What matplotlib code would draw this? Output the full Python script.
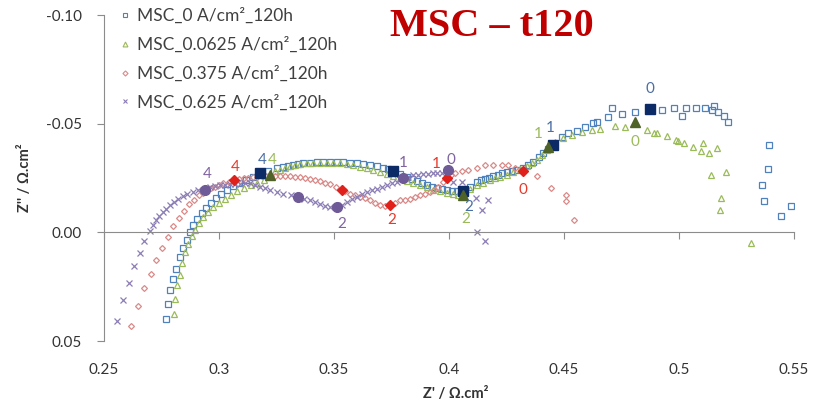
import matplotlib
matplotlib.use("Agg")
import matplotlib.pyplot as plt
from matplotlib.lines import Line2D

# MSC_0 A/cm2_120h  (Z', Z'')
msc0_x = [0.2768, 0.2777, 0.2786, 0.2799, 0.2813, 0.2831, 0.2845, 0.2860, 0.2874, 0.2889,
          0.2906, 0.2925, 0.2944, 0.2965, 0.2987, 0.3009, 0.3033, 0.3060, 0.3087, 0.3116,
          0.3147, 0.3178, 0.3215, 0.3251, 0.3280, 0.3302, 0.3323, 0.3345, 0.3367, 0.3396,
          0.3425, 0.3454, 0.3483, 0.3511, 0.3540, 0.3570, 0.3599, 0.3628, 0.3657, 0.3686,
          0.3714, 0.3736, 0.3758, 0.3787, 0.3816, 0.3838, 0.3860, 0.3882, 0.3903, 0.3925,
          0.3947, 0.3968, 0.3990, 0.4012, 0.4034, 0.4061, 0.4091, 0.4120, 0.4140, 0.4157,
          0.4175, 0.4193, 0.4212, 0.4230, 0.4251, 0.4272, 0.4294, 0.4323, 0.4345, 0.4367,
          0.4390, 0.4410, 0.4432, 0.4454, 0.4490, 0.4519, 0.4555, 0.4591, 0.4627, 0.4642,
          0.4693, 0.4707, 0.4751, 0.4809, 0.4874, 0.4925, 0.4980, 0.5012, 0.5030, 0.5073,
          0.5113, 0.5142, 0.5152, 0.5171, 0.5196, 0.5214, 0.5393, 0.5388, 0.5360, 0.5370,
          0.5445, 0.5487]
msc0_y = [0.0398, 0.0332, 0.0267, 0.0213, 0.0167, 0.0114, 0.0071, 0.0034, -0.0001, -0.0032,
          -0.0063, -0.0089, -0.0114, -0.0137, -0.0158, -0.0178, -0.0197, -0.0214, -0.0229, -0.0243,
          -0.0255, -0.0271, -0.0283, -0.0294, -0.0301, -0.0306, -0.0311, -0.0315, -0.0318, -0.0321,
          -0.0323, -0.0324, -0.0324, -0.0324, -0.0323, -0.0321, -0.0318, -0.0314, -0.0309, -0.0304,
          -0.0298, -0.0291, -0.0283, -0.0270, -0.0255, -0.0245, -0.0235, -0.0226, -0.0218, -0.0210,
          -0.0204, -0.0199, -0.0195, -0.0191, -0.0190, -0.0190, -0.0210, -0.0232, -0.0240, -0.0246,
          -0.0252, -0.0258, -0.0265, -0.0271, -0.0278, -0.0284, -0.0289, -0.0297, -0.0310, -0.0324,
          -0.0345, -0.0363, -0.0382, -0.0401, -0.0437, -0.0455, -0.0467, -0.0485, -0.0501, -0.0508,
          -0.0529, -0.0570, -0.0543, -0.0552, -0.0567, -0.0562, -0.0570, -0.0535, -0.0570, -0.0570,
          -0.0570, -0.0562, -0.0581, -0.0552, -0.0535, -0.0509, -0.0404, -0.0290, -0.0217, -0.0143,
          -0.0074, -0.0123]

# MSC_0.0625 A/cm2_120h
msc0625_x = [0.2804, 0.2809, 0.2819, 0.2830, 0.2841, 0.2852, 0.2867, 0.2881, 0.2896, 0.2913,
             0.2932, 0.2953, 0.2975, 0.3000, 0.3026, 0.3052, 0.3080, 0.3109, 0.3138, 0.3167,
             0.3196, 0.3222, 0.3244, 0.3265, 0.3287, 0.3309, 0.3330, 0.3352, 0.3381, 0.3410,
             0.3439, 0.3468, 0.3497, 0.3526, 0.3555, 0.3584, 0.3613, 0.3642, 0.3671, 0.3700,
             0.3729, 0.3758, 0.3787, 0.3816, 0.3845, 0.3874, 0.3903, 0.3932, 0.3961, 0.3990,
             0.4019, 0.4040, 0.4061, 0.4091, 0.4120, 0.4149, 0.4178, 0.4200, 0.4222, 0.4251,
             0.4280, 0.4309, 0.4338, 0.4360, 0.4381, 0.4403, 0.4425, 0.4432, 0.4461, 0.4497,
             0.4533, 0.4577, 0.4620, 0.4657, 0.4722, 0.4765, 0.4809, 0.4859, 0.4891, 0.4906,
             0.4949, 0.4987, 0.4997, 0.5023, 0.5060, 0.5103, 0.5096, 0.5130, 0.5167, 0.5139,
             0.5203, 0.5184, 0.5177, 0.5314]
msc0625_y = [0.0375, 0.0306, 0.0244, 0.0194, 0.0141, 0.0091, 0.0052, 0.0018, -0.0012, -0.0043,
             -0.0071, -0.0094, -0.0117, -0.0137, -0.0155, -0.0174, -0.0189, -0.0204, -0.0217, -0.0229,
             -0.0240, -0.0263, -0.0280, -0.0289, -0.0297, -0.0304, -0.0309, -0.0314, -0.0317, -0.0320,
             -0.0321, -0.0321, -0.0319, -0.0317, -0.0313, -0.0308, -0.0301, -0.0294, -0.0286, -0.0278,
             -0.0268, -0.0258, -0.0248, -0.0237, -0.0227, -0.0217, -0.0207, -0.0197, -0.0189, -0.0181,
             -0.0177, -0.0174, -0.0171, -0.0200, -0.0217, -0.0229, -0.0240, -0.0248, -0.0255, -0.0266,
             -0.0278, -0.0291, -0.0304, -0.0318, -0.0332, -0.0355, -0.0378, -0.0393, -0.0416, -0.0432,
             -0.0447, -0.0462, -0.0470, -0.0475, -0.0489, -0.0486, -0.0508, -0.0470, -0.0458, -0.0458,
             -0.0442, -0.0424, -0.0420, -0.0409, -0.0393, -0.0409, -0.0375, -0.0363, -0.0389, -0.0266,
             -0.0278, -0.0160, -0.0105, 0.0049]

# MSC_0.375 A/cm2_120h
msc0375_x = [0.2616, 0.2646, 0.2675, 0.2703, 0.2726, 0.2751, 0.2777, 0.2801, 0.2828, 0.2848,
             0.2871, 0.2891, 0.2914, 0.2930, 0.2947, 0.2965, 0.2983, 0.3001, 0.3019, 0.3043,
             0.3067, 0.3088, 0.3109, 0.3128, 0.3148, 0.3167, 0.3187, 0.3206, 0.3226, 0.3245,
             0.3265, 0.3287, 0.3309, 0.3330, 0.3352, 0.3374, 0.3396, 0.3417, 0.3439, 0.3461,
             0.3483, 0.3509, 0.3533, 0.3550, 0.3570, 0.3591, 0.3613, 0.3635, 0.3657, 0.3678,
             0.3700, 0.3722, 0.3743, 0.3765, 0.3787, 0.3808, 0.3830, 0.3852, 0.3874, 0.3895,
             0.3917, 0.3936, 0.3954, 0.3972, 0.3990, 0.4008, 0.4026, 0.4055, 0.4084, 0.4120,
             0.4157, 0.4193, 0.4229, 0.4258, 0.4287, 0.4323, 0.4384, 0.4442, 0.4507, 0.4507,
             0.4545]
msc0375_y = [0.0429, 0.0337, 0.0255, 0.0190, 0.0129, 0.0071, 0.0022, -0.0028, -0.0066, -0.0097,
             -0.0129, -0.0151, -0.0171, -0.0183, -0.0194, -0.0202, -0.0209, -0.0217, -0.0225, -0.0233,
             -0.0240, -0.0245, -0.0249, -0.0252, -0.0254, -0.0256, -0.0258, -0.0259, -0.0260, -0.0260,
             -0.0260, -0.0259, -0.0258, -0.0256, -0.0254, -0.0251, -0.0247, -0.0241, -0.0235, -0.0228,
             -0.0221, -0.0207, -0.0197, -0.0188, -0.0178, -0.0170, -0.0163, -0.0156, -0.0148, -0.0136,
             -0.0124, -0.0122, -0.0124, -0.0136, -0.0148, -0.0151, -0.0155, -0.0163, -0.0171, -0.0178,
             -0.0186, -0.0197, -0.0209, -0.0230, -0.0250, -0.0262, -0.0271, -0.0283, -0.0289, -0.0298,
             -0.0309, -0.0312, -0.0312, -0.0309, -0.0298, -0.0281, -0.0258, -0.0204, -0.0174, -0.0144,
             -0.0055]

# MSC_0.625 A/cm2_120h
msc0625b_x = [0.2558, 0.2584, 0.2610, 0.2632, 0.2657, 0.2675, 0.2700, 0.2714, 0.2726, 0.2740,
              0.2755, 0.2770, 0.2787, 0.2804, 0.2823, 0.2842, 0.2862, 0.2886, 0.2910, 0.2939,
              0.2961, 0.2983, 0.3004, 0.3026, 0.3048, 0.3070, 0.3091, 0.3113, 0.3135, 0.3157,
              0.3178, 0.3200, 0.3222, 0.3251, 0.3280, 0.3312, 0.3345, 0.3370, 0.3396, 0.3417,
              0.3439, 0.3461, 0.3483, 0.3512, 0.3533, 0.3555, 0.3577, 0.3599, 0.3620, 0.3642,
              0.3664, 0.3686, 0.3707, 0.3729, 0.3751, 0.3773, 0.3801, 0.3823, 0.3845, 0.3866,
              0.3888, 0.3910, 0.3932, 0.3950, 0.3968, 0.3997, 0.4019, 0.4055, 0.4117, 0.4171,
              0.4142, 0.4120, 0.4157]
msc0625b_y = [0.0409, 0.0313, 0.0234, 0.0157, 0.0095, 0.0040, -0.0005, -0.0032, -0.0055, -0.0074,
              -0.0094, -0.0109, -0.0128, -0.0140, -0.0155, -0.0167, -0.0178, -0.0186, -0.0194, -0.0197,
              -0.0209, -0.0213, -0.0217, -0.0219, -0.0221, -0.0223, -0.0224, -0.0225, -0.0225, -0.0218,
              -0.0209, -0.0202, -0.0194, -0.0186, -0.0178, -0.0170, -0.0163, -0.0155, -0.0148, -0.0138,
              -0.0129, -0.0123, -0.0117, -0.0117, -0.0128, -0.0140, -0.0152, -0.0163, -0.0175, -0.0186,
              -0.0194, -0.0201, -0.0209, -0.0217, -0.0225, -0.0232, -0.0248, -0.0256, -0.0263, -0.0265,
              -0.0267, -0.0269, -0.0271, -0.0271, -0.0271, -0.0286, -0.0232, -0.0232, -0.0160, -0.0148,
              -0.0105, 0.0000, 0.0040]

# frequency decade points (log f) highlighted with filled markers
msc0_dec_x = [0.3178, 0.3758, 0.4061, 0.4454, 0.4874]
msc0_dec_y = [-0.0271, -0.0283, -0.0190, -0.0401, -0.0567]
msc0_dec_lab = ['4', '', '2', '1', '0']
msc0625_dec_x = [0.3222, 0.4061, 0.4432, 0.4809]
msc0625_dec_y = [-0.0263, -0.0171, -0.0393, -0.0508]
msc0625_dec_lab = ['4', '2', '1', '0']
msc0375_dec_x = [0.3067, 0.3533, 0.3743, 0.3990, 0.4323]
msc0375_dec_y = [-0.0240, -0.0197, -0.0124, -0.0250, -0.0281]
msc0375_dec_lab = ['4', '', '2', '1', '0']
msc0625b_dec_x = [0.2939, 0.3345, 0.3512, 0.3801, 0.3997]
msc0625b_dec_y = [-0.0197, -0.0163, -0.0117, -0.0248, -0.0286]
msc0625b_dec_lab = ['4', '', '2', '1', '0']

legend_labels = ['MSC_0 A/cm²_120h', 'MSC_0.0625 A/cm²_120h',
                 'MSC_0.375 A/cm²_120h', 'MSC_0.625 A/cm²_120h']
xticks = [0.25, 0.3, 0.35, 0.4, 0.45, 0.5, 0.55]
xtick_labels = ['0.25', '0.3', '0.35', '0.4', '0.45', '0.5', '0.55']
yticks = [-0.10, -0.05, 0.00, 0.05]
ytick_labels = ['-0.10', '-0.05', '0.00', '0.05']

# label offsets in pixels (dx, dy)
msc0_off = [(2, 13), None, (6, -16), (-3, 17), (0, 20)]
msc0625_off = [(2, 15), (3, -24), (-10, 13), (0, -20)]
msc0375_off = [(1, 13), None, (2, -15), (-10, 14), (0, -19)]
msc0625b_off = [(2, 16), None, (5, -17), (0, 15), (3, 10)]

plt.rcParams['font.family'] = ['Lato', 'DejaVu Sans']

fig = plt.figure(figsize=(8.22, 4.11), dpi=100)
ax = fig.add_axes([0.1265, 0.1703, 0.8394, 0.7932])

series = [
    (msc0_x, msc0_y, 's', 4.7, '#4F81BD', 'none'),
    (msc0625_x, msc0625_y, '^', 5.0, '#9BBB59', 'none'),
    (msc0375_x, msc0375_y, 'D', 3.0, '#D88A88', 'none'),
    (msc0625b_x, msc0625b_y, 'x', 4.3, '#8C7DB5', None),
]
for sx, sy, m, ms, c, fc in series:
    if fc is None:
        ax.plot(sx, sy, ls='none', marker=m, ms=ms, mec=c, mew=0.9)
    else:
        ax.plot(sx, sy, ls='none', marker=m, ms=ms, mec=c, mfc=fc, mew=0.9)

decades = [
    (msc0_dec_x, msc0_dec_y, msc0_dec_lab, msc0_off, 's', 6.5, '#0B2A66', '#4A6FA5'),
    (msc0625_dec_x, msc0625_dec_y, msc0625_dec_lab, msc0625_off, '^', 7.0, '#4F6228', '#9BBB59'),
    (msc0375_dec_x, msc0375_dec_y, msc0375_dec_lab, msc0375_off, 'D', 5.0, '#E0201B', '#E8392A'),
    (msc0625b_dec_x, msc0625b_dec_y, msc0625b_dec_lab, msc0625b_off, 'o', 7.0, '#6E5A96', '#8064A2'),
]
for dx, dy, labs, offs, m, ms, c, lc in decades:
    ax.plot(dx, dy, ls='none', marker=m, ms=ms, mec=c, mfc=c, zorder=4)
    for x, y, t, o in zip(dx, dy, labs, offs):
        if t:
            ax.annotate(t, (x, y), xytext=o, textcoords='offset pixels',
                        ha='center', va='center', fontsize=11, color=lc, zorder=5)

ax.set_xlim(0.25, 0.55)
ax.set_ylim(0.05, -0.10)

axis_color = '#8C8C8C'
for s in ['top', 'right']:
    ax.spines[s].set_visible(False)
ax.spines['left'].set_color(axis_color)
ax.spines['bottom'].set_color(axis_color)
ax.spines['bottom'].set_position(('data', 0.0))

ax.set_xticks(xticks)
ax.tick_params(axis='x', direction='out', length=5, color=axis_color, labelbottom=False)
ax.set_yticks(yticks, labels=ytick_labels)
ax.tick_params(axis='y', direction='out', length=5, color=axis_color, pad=11,
               labelsize=11, labelcolor='#333333')

# x tick labels sit below the plot area, not on the zero line
sec = ax.secondary_xaxis(0)
sec.set_xticks(xticks, labels=xtick_labels)
sec.tick_params(length=0, pad=16, labelsize=11, labelcolor='#333333')
sec.spines['bottom'].set_visible(False)

ax.set_ylabel("Z'' / Ω.cm²", fontsize=10.5, fontweight='bold', color='#333333')
ax.yaxis.set_label_coords(-0.105, 0.5)
ax.set_xlabel("Z' / Ω.cm²", fontsize=10.5, fontweight='bold', color='#333333')
ax.xaxis.set_label_coords(0.51, -0.14)

handles = [
    Line2D([], [], ls='none', marker='s', ms=3.5, mec='#4F81BD', mfc='none', mew=0.8),
    Line2D([], [], ls='none', marker='^', ms=3.5, mec='#9BBB59', mfc='none', mew=0.8),
    Line2D([], [], ls='none', marker='D', ms=2.6, mec='#D88A88', mfc='none', mew=0.8),
    Line2D([], [], ls='none', marker='x', ms=3.5, mec='#8C7DB5', mew=0.8),
]
fig.legend(handles, legend_labels, loc='upper left', bbox_to_anchor=(118 / 822, 1 - 8 / 411),
           frameon=False, fontsize=12.5, handletextpad=0.3, handlelength=0.8,
           labelspacing=0.72, borderaxespad=0, borderpad=0, labelcolor='#404040')

fig.text(492 / 822, 1 - 27 / 411, 'MSC – t120', ha='center', va='center',
         fontsize=29, fontweight='bold', color='#C00000', family='Liberation Serif')

fig.savefig('out.png', dpi=100)
